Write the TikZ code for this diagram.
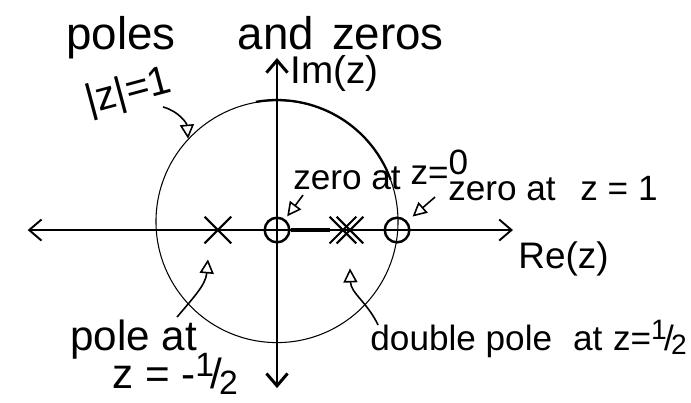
\documentclass[tikz,border=0pt]{standalone}
\usepackage{fontspec}
\setmainfont{Liberation Sans}
\usepackage{graphicx}
\usetikzlibrary{arrows.meta,shapes.misc}
\newcommand{\halfsym}{\raisebox{0.55ex}{\scalebox{0.8}{1}}\kern-0.08em/\kern-0.08em\raisebox{-0.25ex}{\scalebox{0.8}{2}}}

\begin{document}
\begin{tikzpicture}[
  x=2.42cm, y=2.42cm,
  axis/.style={{Straight Barb[length=7pt,width=12pt]}-{Straight Barb[length=7pt,width=12pt]}},
  pole/.style={cross out,draw,line width=1.2pt,minimum size=14pt,inner sep=0pt},
  zero/.style={circle,draw,line width=1.4pt,minimum size=14pt,inner sep=0pt},
  note/.style={font=\fontsize{20}{23}\selectfont,inner sep=0pt,anchor=base west},
  big/.style={font=\fontsize{24}{28}\selectfont,inner sep=0pt},
  arrow/.style={-{Triangle[open,length=8pt,width=8pt]},line width=0.9pt}
]
  \useasboundingbox (-2.289,-1.421) rectangle (3.421,1.901);

  % unit circle and axes
  \node[circle,draw,line width=0.6pt,minimum size=4.84cm,inner sep=0pt] (ucirc) at (0,0.07) {};
  \draw[line width=1.3pt] (ucirc.100) arc[start angle=100,end angle=20,radius=2.42cm];
  \coordinate (xl) at (-2.06,0);
  \coordinate (xr) at (1.95,0);
  \coordinate (yb) at (0,-1.306);
  \coordinate (yt) at (0,1.421);
  \draw[axis,line width=1.1pt] (xl) -- (xr);
  \draw[axis,line width=1.7pt] (yb) -- (yt);

  % zeros and poles
  \node[zero] (zz0) at (0,0) {};
  \node[zero] (zz1) at (0.992,0) {};
  \node[pole] (p1) at (-0.488,0) {};
  \node[pole] (dp1) at (0.545,0) {};
  \node[pole] (dp2) at (0.603,0) {};
  \draw[line width=1.8pt] (zz0.east) -- (dp1.west);

  % texts
  \node[font=\fontsize{26}{30}\selectfont,inner sep=0pt,anchor=base west] (title) at (-1.744,1.49) {poles\hspace{1.36em}and\hspace{0.4em}zeros};
  \node[big,font=\fontsize{23}{27}\selectfont,rotate=15] (absz) at (-1.225,1.135) {|z|=1};
  \node[note,font=\fontsize{22}{25}\selectfont] (im) at (0.107,1.215) {Im(z)};
  \node[note,font=\fontsize{21}{24}\selectfont] (re) at (1.992,-0.314) {Re(z)};
  \node[note] (lz0) at (0.132,0.331) {zero at \raisebox{3pt}{z=}\raisebox{9pt}{0}};
  \node[note] (lz1) at (1.413,0.248) {zero at\hspace{0.7em}z = 1};
  \node[note] (ldp) at (0.769,-0.992) {double pole\hspace{0.6em}at\hspace{0.3em}z=\halfsym};
  \node[big,anchor=base west] (lp) at (-1.711,-0.992) {pole at};
  \node[big,anchor=base west] (lpz) at (-1.364,-1.31) {z = -\halfsym};

  % pointers
  \coordinate (ua) at (-0.942,1.017);
  \coordinate (a0) at (0.215,0.289);
  \coordinate (a1) at (1.306,0.273);
  \coordinate (ap) at (-0.826,-0.719);
  \coordinate (adp) at (0.835,-0.785);
  \draw[arrow] (ua) to[out=-15,in=95] (ucirc.137.5);
  \draw[arrow,shorten >=2pt] (a0) -- (zz0);
  \draw[arrow,shorten >=4pt] (a1) -- (zz1);
  \draw[arrow] (ap) to[out=50,in=-95] ([shift={(-0.2cm,-0.32cm)}]p1.south);
  \draw[arrow] (adp) to[out=115,in=-88] ([yshift=-0.5cm]dp2.south);
\end{tikzpicture}
\end{document}
